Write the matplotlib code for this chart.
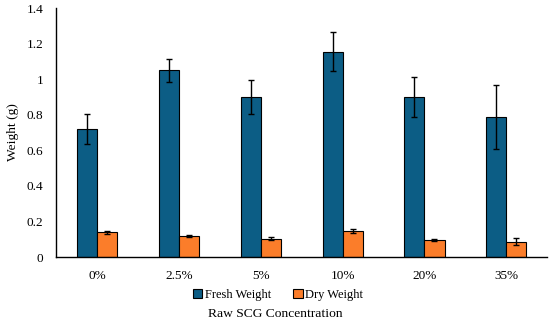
import matplotlib.pyplot as plt
import numpy as np

concentrations = ["0%", "2.5%", "5%", "10%", "20%", "35%"]
fresh_weight = [0.72, 1.05, 0.90, 1.155, 0.90, 0.79]
fresh_err = [0.087, 0.066, 0.097, 0.11, 0.112, 0.18]
dry_weight = [0.138, 0.119, 0.104, 0.147, 0.097, 0.086]
dry_err = [0.010, 0.006, 0.006, 0.011, 0.007, 0.019]

FRESH_COLOR = "#0c5d85"
DRY_COLOR = "#fb7d2a"


def main():
    plt.rcParams["font.family"] = ["Liberation Serif", "DejaVu Serif"]
    fig = plt.figure(figsize=(5.5, 3.23), dpi=100)
    ax = fig.add_axes([0.102, 0.2043, 0.893, 0.7707])

    x = np.arange(len(concentrations))
    width = 0.245
    err_style = dict(ecolor="black", capsize=2.5, error_kw=dict(elinewidth=1.0, capthick=1.0))

    ax.bar(x - width / 2, fresh_weight, width, yerr=fresh_err, color=FRESH_COLOR,
           edgecolor="black", linewidth=0.8, label="Fresh Weight", **err_style)
    ax.bar(x + width / 2, dry_weight, width, yerr=dry_err, color=DRY_COLOR,
           edgecolor="black", linewidth=0.8, label="Dry Weight", **err_style)

    ax.set_xlim(-0.5, len(concentrations) - 0.5)
    ax.set_ylim(0, 1.4)
    ax.set_yticks(np.arange(0, 1.41, 0.2))
    ax.set_yticklabels(["0", "0.2", "0.4", "0.6", "0.8", "1", "1.2", "1.4"])
    ax.set_xticks(x)
    ax.set_xticklabels(concentrations)
    ax.tick_params(axis="both", length=0, labelsize=9.5)
    ax.tick_params(axis="x", pad=9)
    ax.tick_params(axis="y", pad=9)

    ax.spines.right.set_color("none")
    ax.spines.top.set_color("none")
    ax.spines.left.set_linewidth(1.0)
    ax.spines.bottom.set_linewidth(1.0)

    ax.set_ylabel("Weight (g)", fontsize=9.7)
    ax.yaxis.set_label_coords(-0.075, 0.5)
    fig.text(0.5, 0.027, "Raw SCG Concentration", ha="center", va="center", fontsize=9.7)

    ax.legend(loc="center", bbox_to_anchor=(0.452, -0.152), ncol=2, frameon=False,
              fontsize=9.0, handlelength=0.75, handleheight=0.75, handletextpad=0.2,
              columnspacing=1.8, borderaxespad=0)

    fig.savefig("out.png", dpi=100)


if __name__ == "__main__":
    main()
